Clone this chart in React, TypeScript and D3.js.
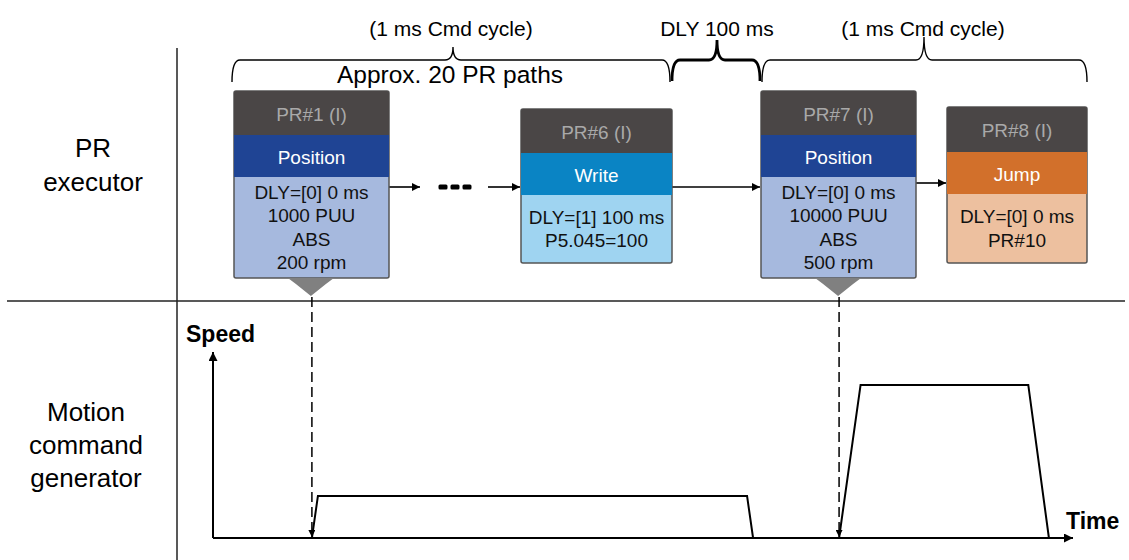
import React from "react";
import * as d3 from "d3";

// ---------- data ----------
const prIds = ["PR#1 (I)", "PR#6 (I)", "PR#7 (I)", "PR#8 (I)"];
const prTypes = ["Position", "Write", "Position", "Jump"];
const prParams = [
  ["DLY=[0] 0 ms", "1000 PUU", "ABS", "200 rpm"],
  ["DLY=[1] 100 ms", "P5.045=100"],
  ["DLY=[0] 0 ms", "10000 PUU", "ABS", "500 rpm"],
  ["DLY=[0] 0 ms", "PR#10"],
];
const braceLabels = ["(1 ms Cmd cycle)", "DLY 100 ms", "(1 ms Cmd cycle)"];
const braceSubLabel = "Approx. 20 PR paths";
const rowLabels = [["PR", "executor"], ["Motion", "command", "generator"]];
const axisLabels = ["Speed", "Time"];

// speed profiles (time in %, speed in relative units)
const move1Time = [11.5, 12.2, 62.1, 62.8];
const move1Speed = [0, 22.6, 22.6, 0];
const move2Time = [72.8, 75.3, 94.8, 97.2];
const move2Speed = [0, 82.3, 82.3, 0];
const triggerTimes = [11.5, 72.8];

// ---------- layout ----------
const W = 1129, H = 560;
const FONT = "'Liberation Sans', Arial, sans-serif";
const boxLayout = [
  { x: 234, w: 155, top: 91, head: 44, band: 42, body: 101 },
  { x: 521, w: 151, top: 109, head: 44, band: 42, body: 68 },
  { x: 761, w: 155, top: 91, head: 44, band: 42, body: 101 },
  { x: 947, w: 140, top: 107, head: 45, band: 42, body: 69 },
];
const typeColors: Record<string, [string, string]> = {
  Position: ["#1f4494", "#a6b9de"],
  Write: ["#0a84c4", "#9fd4f1"],
  Jump: ["#d2702b", "#edc09f"],
};

const xT = d3.scaleLinear().domain([0, 100]).range([213, 1073]);
const yS = d3.scaleLinear().domain([0, 100]).range([538, 352]);

function bracePath(x1: number, x2: number, xm: number, yTop: number, yEnd: number, yTip: number) {
  const r = 8, r2 = 8;
  return `M${x1},${yEnd} Q${x1},${yTop} ${x1 + r},${yTop} L${xm - r2},${yTop} Q${xm},${yTop} ${xm},${yTip} Q${xm},${yTop} ${xm + r2},${yTop} L${x2 - r},${yTop} Q${x2},${yTop} ${x2},${yEnd}`;
}

export default function App() {
  const line = d3.line<number>().x((d, i) => 0).y(() => 0);
  const profile = (ts: number[], vs: number[]) =>
    d3.line<number>()
      .x((t) => xT(t))
      .y((_, i) => yS(vs[i]))(ts) || "";
  void line;

  return (
    <svg width={W} height={H} style={{ display: "block", position: "absolute", left: 0, top: 0 }} fontFamily={FONT}>
      <defs>
        <marker id="ah" viewBox="0 0 10 10" refX="10" refY="5" markerWidth="10" markerHeight="8" markerUnits="userSpaceOnUse" orient="auto">
          <path d="M0,0 L10,5 L0,10 z" fill="#000" />
        </marker>
        <marker id="ahs" viewBox="0 0 10 10" refX="10" refY="5" markerWidth="8" markerHeight="7" markerUnits="userSpaceOnUse" orient="auto">
          <path d="M0,0 L10,5 L0,10 z" fill="#000" />
        </marker>
        <marker id="ahl" viewBox="0 0 10 10" refX="10" refY="5" markerWidth="14" markerHeight="9" markerUnits="userSpaceOnUse" orient="auto">
          <path d="M0,0 L10,5 L0,10 z" fill="#000" />
        </marker>
      </defs>
      <rect width={W} height={H} fill="#fff" />

      {/* dividers */}
      <line x1={177} y1={48} x2={177} y2={H} stroke="#222" strokeWidth={1.5} />
      <line x1={7} y1={301} x2={1125} y2={301} stroke="#222" strokeWidth={1.5} />

      {/* row labels */}
      {rowLabels[0].map((t, i) => (
        <text key={"r0" + i} x={93} y={148 + i * 34} fontSize={26} textAnchor="middle" dominantBaseline="central">{t}</text>
      ))}
      {rowLabels[1].map((t, i) => (
        <text key={"r1" + i} x={86} y={412 + i * 33} fontSize={26} textAnchor="middle" dominantBaseline="central">{t}</text>
      ))}

      {/* braces */}
      <path d={bracePath(232, 670, 453, 60, 82, 47)} fill="none" stroke="#000" strokeWidth={1.4} />
      <path d={bracePath(672, 760, 717, 60, 81, 40)} fill="none" stroke="#000" strokeWidth={2.8} />
      <path d={bracePath(762, 1087, 924, 60, 82, 37)} fill="none" stroke="#000" strokeWidth={1.4} />
      <text x={451} y={28} fontSize={21} textAnchor="middle" dominantBaseline="central">{braceLabels[0]}</text>
      <text x={717} y={28} fontSize={21} textAnchor="middle" dominantBaseline="central">{braceLabels[1]}</text>
      <text x={923} y={28} fontSize={21} textAnchor="middle" dominantBaseline="central">{braceLabels[2]}</text>
      <text x={450} y={74} fontSize={24.5} textAnchor="middle" dominantBaseline="central">{braceSubLabel}</text>

      {/* connectors between boxes */}
      <line x1={389} y1={187} x2={420} y2={187} stroke="#000" strokeWidth={1.6} markerEnd="url(#ah)" />
      {[443, 455, 467].map((cx) => (
        <rect key={cx} x={cx - 4.5} y={184.5} width={9} height={5} rx={1.5} fill="#000" />
      ))}
      <line x1={488} y1={187} x2={520} y2={187} stroke="#000" strokeWidth={1.6} markerEnd="url(#ah)" />
      <line x1={672} y1={187} x2={760} y2={187} stroke="#000" strokeWidth={1.6} markerEnd="url(#ah)" />
      <line x1={916} y1={183} x2={946} y2={183} stroke="#000" strokeWidth={1.6} markerEnd="url(#ah)" />

      {/* PR boxes */}
      {prIds.map((id, i) => {
        const b = boxLayout[i];
        const [bandC, bodyC] = typeColors[prTypes[i]];
        const yBand = b.top + b.head;
        const yBody = yBand + b.band;
        const bottom = yBody + b.body;
        const cx = b.x + b.w / 2;
        const params = prParams[i];
        const midBody = yBody + b.body / 2;
        const lh = 23.3;
        return (
          <g key={id}>
            <rect x={b.x} y={b.top} width={b.w} height={bottom - b.top} rx={2} fill={bodyC} stroke="#555" strokeWidth={1.5} />
            <path d={`M${b.x},${yBand} V${b.top + 2} Q${b.x},${b.top} ${b.x + 2},${b.top} H${b.x + b.w - 2} Q${b.x + b.w},${b.top} ${b.x + b.w},${b.top + 2} V${yBand} Z`} fill="#4a4646" />
            <rect x={b.x} y={yBand} width={b.w} height={b.band} fill={bandC} />
            <text x={cx} y={b.top + b.head / 2 + 1} fontSize={19} fill="#a9a9a9" textAnchor="middle" dominantBaseline="central">{id}</text>
            <text x={cx} y={yBand + b.band / 2 + 1} fontSize={19} fill="#fff" textAnchor="middle" dominantBaseline="central">{prTypes[i]}</text>
            {params.map((p, j) => (
              <text key={j} x={cx} y={midBody + (j - (params.length - 1) / 2) * lh} fontSize={19} fill="#111" textAnchor="middle" dominantBaseline="central">{p}</text>
            ))}
          </g>
        );
      })}

      {/* trigger pointers */}
      {triggerTimes.map((t, i) => {
        const b = boxLayout[i === 0 ? 0 : 2];
        const bottom = b.top + b.head + b.band + b.body;
        const cx = xT(t) - 1;
        return (
          <g key={"tr" + i}>
            <path d={`M${cx - 23},${bottom} L${cx + 23},${bottom} L${cx + 15},${bottom + 6} L${cx},${296} L${cx - 15},${bottom + 6} Z`} fill="#808080" />
            <line x1={xT(t)} y1={297} x2={xT(t)} y2={537} stroke="#000" strokeWidth={1.5} strokeDasharray="10,5" markerEnd="url(#ahs)" />
          </g>
        );
      })}

      {/* axes */}
      <line x1={xT(0)} y1={yS(0)} x2={xT(0)} y2={yS(100)} stroke="#000" strokeWidth={2} markerEnd="url(#ahl)" />
      <line x1={xT(0)} y1={yS(0)} x2={xT(100)} y2={yS(0)} stroke="#000" strokeWidth={2} markerEnd="url(#ahl)" />
      <text x={186} y={342} fontSize={23} fontWeight="bold">{axisLabels[0]}</text>
      <text x={1066} y={529} fontSize={23} fontWeight="bold">{axisLabels[1]}</text>

      {/* speed profiles */}
      <path d={profile(move1Time, move1Speed)} fill="none" stroke="#000" strokeWidth={2} strokeLinejoin="miter" />
      <path d={profile(move2Time, move2Speed)} fill="none" stroke="#000" strokeWidth={2} strokeLinejoin="miter" />
    </svg>
  );
}
